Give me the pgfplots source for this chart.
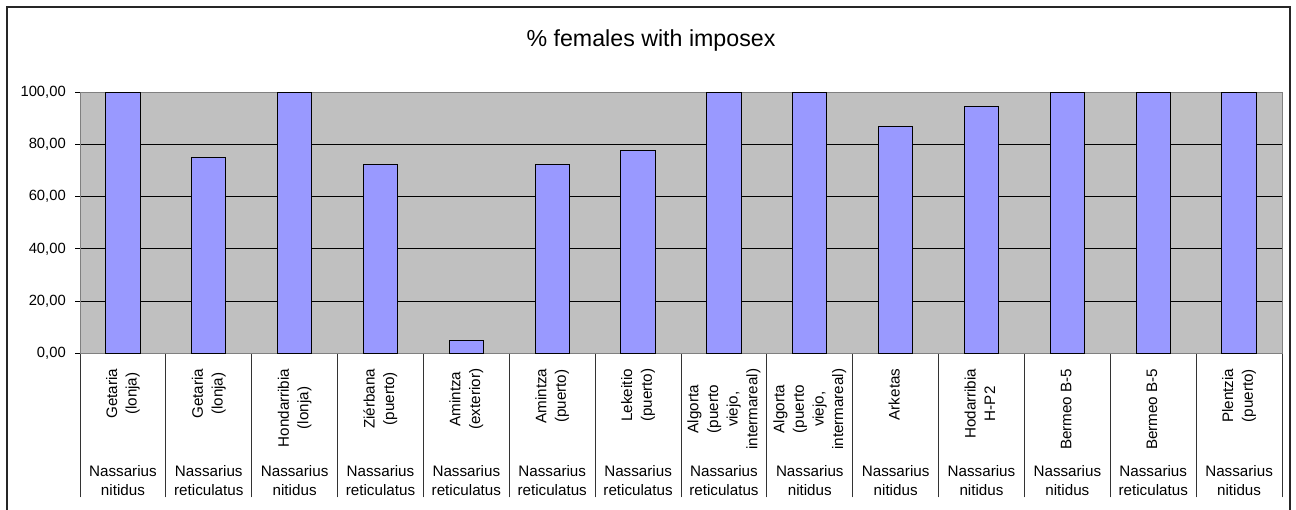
\documentclass[border=0pt]{standalone}
\usepackage{pgfplots}
\usepackage{pgfplotstable}
\usepackage{graphicx}
\usepackage{fontspec}
\setmainfont{Liberation Sans}
\pgfplotsset{compat=1.18}

\definecolor{barblue}{HTML}{9999FF}
\definecolor{plotgray}{HTML}{C0C0C0}
\definecolor{framegray}{HTML}{808080}

% site label, set upright in a column and turned to read bottom to top
\newcommand{\site}[1]{\rotatebox{90}{\begin{tabular}{@{}c@{}}#1\end{tabular}}}

% share of females with imposex, one row per sampling site and species
\pgfplotstableread{
x  y
0  100
1  75
2  100
3  72.5
4  5
5  72.5
6  77.7
7  100
8  100
9  87.0
10 94.4
11 100
12 100
13 100
}\imposex

\begin{document}
\begin{tikzpicture}
\useasboundingbox (0,0) rectangle (648pt,-254.5pt);
\draw[line width=0.7pt, black!85] (3.5pt,-262pt) -- (3.5pt,-3.5pt) -- (645pt,-3.5pt) -- (645pt,-262pt);
\node[anchor=base, font=\fontsize{11.6pt}{13pt}\selectfont] at (325.5pt,-23.35pt) {\% females with imposex};
\begin{axis}[
  at={(40pt,-176.65pt)}, anchor=south west,
  scale only axis, width=601pt, height=130.5pt,
  xmin=-0.5, xmax=13.5, ymin=0, ymax=100,
  axis background/.style={fill=plotgray},
  axis line style={draw=framegray, line width=0.5pt},
  xtick pos=left, ytick pos=left,
  ytick={0,20,...,100},
  ymajorgrids, grid style={black, line width=0.5pt},
  tick align=outside, major tick length=2.5pt,
  ytick style={black, line width=0.5pt},
  yticklabel style={font=\fontsize{7.4pt}{9pt}\selectfont, inner sep=0pt, xshift=-4.4pt},
  /pgf/number format/.cd, fixed, fixed zerofill, precision=2, use comma, assume math mode=true,
  /pgfplots/.cd,
  xtick={0,...,13},
  major x tick style={draw=none},
  xticklabels={
    \site{Getaria\\(lonja)},\site{Getaria\\(lonja)},\site{Hondarribia\\(lonja)},\site{Ziérbana\\(puerto)},
    \site{Amintza\\(exterior)},\site{Amintza\\(puerto)},\site{Lekeitio\\(puerto)},\site{Algorta\\(puerto\\viejo,\\intermareal)},
    \site{Algorta\\(puerto\\viejo,\\intermareal)},\site{Arketas},\site{Hodarribia\\H-P2},\site{Bermeo B-5},
    \site{Bermeo B-5},\site{Plentzia\\(puerto)}},
  xticklabel style={font=\fontsize{7.6pt}{9.8pt}\selectfont, anchor=north, inner sep=0pt, yshift=-5pt},
  extra x ticks={0,...,13},
  extra x tick labels={
    {Nassarius\\nitidus},{Nassarius\\reticulatus},{Nassarius\\nitidus},{Nassarius\\reticulatus},
    {Nassarius\\reticulatus},{Nassarius\\reticulatus},{Nassarius\\reticulatus},{Nassarius\\reticulatus},
    {Nassarius\\nitidus},{Nassarius\\nitidus},{Nassarius\\nitidus},{Nassarius\\nitidus},
    {Nassarius\\reticulatus},{Nassarius\\nitidus}},
  extra x tick style={major x tick style={draw=none},
    xticklabel style={font=\fontsize{7.6pt}{9.2pt}\selectfont, align=center, yshift=-48.5pt}},
  minor xtick={-0.5,0.5,...,13.5},
  minor tick length=72pt,
  minor x tick style={draw=black!80, line width=0.5pt},
]
\addplot[ybar, bar width=0.4, fill=barblue, draw=black, line width=0.5pt] table[x=x, y=y] {\imposex};
\end{axis}
\end{tikzpicture}
\end{document}
